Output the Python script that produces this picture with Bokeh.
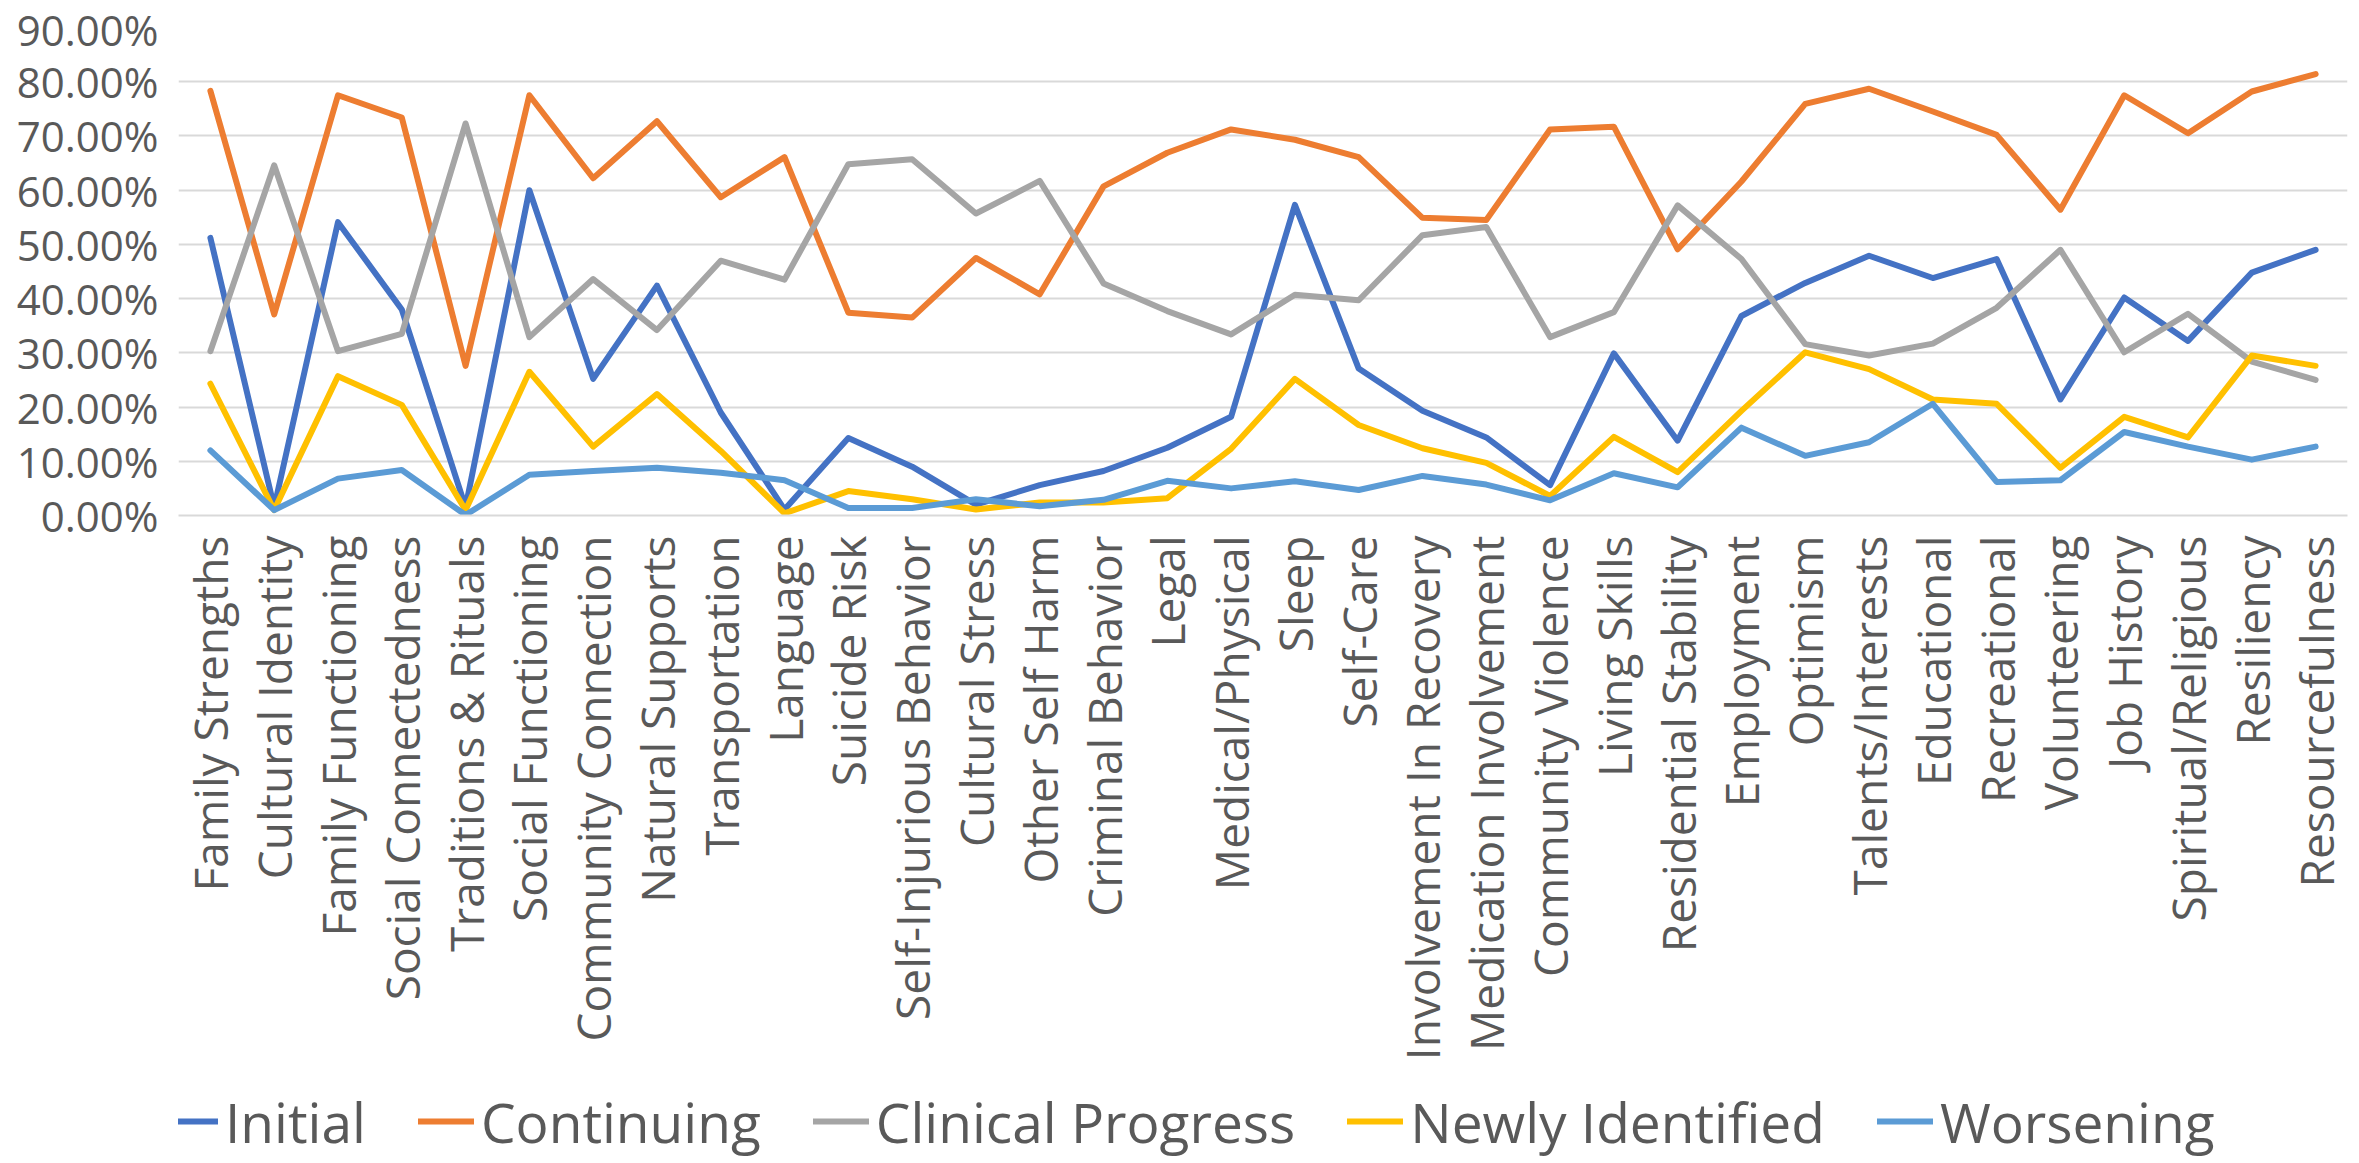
import math

from bokeh.embed import file_html
from bokeh.layouts import column
from bokeh.models import (FactorRange, FixedTicker, Legend, LegendItem,
                          PrintfTickFormatter, Range1d)
from bokeh.plotting import figure
from bokeh.resources import INLINE

# Assessment domains, in display order
categories = [
    "Family Strengths", "Cultural Identity", "Family Functioning",
    "Social Connectedness", "Traditions & Rituals", "Social Functioning",
    "Community Connection", "Natural Supports", "Transportation", "Language",
    "Suicide Risk", "Self-Injurious Behavior", "Cultural Stress",
    "Other Self Harm", "Criminal Behavior", "Legal", "Medical/Physical",
    "Sleep", "Self-Care", "Involvement In Recovery", "Medication Involvement",
    "Community Violence", "Living Skills", "Residential Stability",
    "Employment", "Optimism", "Talents/Interests", "Educational",
    "Recreational", "Volunteering", "Job History", "Spiritual/Religious",
    "Resiliency", "Resourcefulness",
]

# Share of cases per status (percent)
initial = [51.2, 1.5, 54.1, 38.0, 1.5, 60.0, 25.2, 42.4, 19.0, 1.1,
           14.3, 9.0, 2.0, 5.6, 8.2, 12.5, 18.2, 57.3, 27.1, 19.3,
           14.4, 5.6, 29.9, 13.8, 36.8, 42.9, 47.9, 43.8, 47.3, 21.4,
           40.2, 32.2, 44.8, 49.0]
continuing = [78.3, 37.1, 77.5, 73.4, 27.6, 77.5, 62.2, 72.7, 58.7, 66.1,
              37.4, 36.5, 47.5, 40.8, 60.7, 66.9, 71.2, 69.3, 66.1, 54.9,
              54.5, 71.2, 71.7, 49.1, 61.6, 75.9, 78.7, 74.5, 70.2, 56.4,
              77.5, 70.5, 78.2, 81.4]
clinical_progress = [30.3, 64.6, 30.3, 33.5, 72.3, 32.9, 43.6, 34.2, 47.0, 43.5,
                     64.8, 65.7, 55.7, 61.7, 42.8, 37.7, 33.4, 40.7, 39.7, 51.7,
                     53.2, 32.9, 37.5, 57.2, 47.3, 31.6, 29.5, 31.7, 38.3, 49.0,
                     30.1, 37.2, 28.4, 25.0]
newly_identified = [24.3, 1.0, 25.7, 20.4, 1.0, 26.5, 12.7, 22.4, 11.9, 0.4,
                    4.5, 3.0, 1.1, 2.4, 2.4, 3.2, 12.3, 25.2, 16.7, 12.4,
                    9.7, 3.6, 14.5, 8.0, 19.3, 30.1, 27.0, 21.4, 20.6, 8.8,
                    18.2, 14.4, 29.5, 27.6]
worsening = [12.0, 1.0, 6.8, 8.4, 0.1, 7.5, 8.2, 8.8, 7.9, 6.5,
             1.4, 1.4, 3.0, 1.7, 2.9, 6.4, 5.0, 6.3, 4.7, 7.3,
             5.7, 2.8, 7.8, 5.2, 16.2, 11.0, 13.5, 20.6, 6.2, 6.5,
             15.4, 12.7, 10.3, 12.7]

y_ticks = [0, 10, 20, 30, 40, 50, 60, 70, 80, 90]

series = [
    ("Initial", initial, "#4472C4"),
    ("Continuing", continuing, "#ED7D31"),
    ("Clinical Progress", clinical_progress, "#A5A5A5"),
    ("Newly Identified", newly_identified, "#FFC000"),
    ("Worsening", worsening, "#5B9BD5"),
]

TEXT = "#595959"
GRID = "#D9D9D9"
FONT = "Open Sans"
LINE_W = 6

W = 2359
LEGEND_H = 84

p = figure(
    width=W, height=1163 - LEGEND_H,
    x_range=FactorRange(factors=categories, range_padding=0),
    y_range=Range1d(0, 90),
    output_backend="svg", toolbar_location=None, title=None,
    min_border_left=178, min_border_right=12,
    min_border_top=27, min_border_bottom=1163 - LEGEND_H - 515,
)
p.outline_line_color = None
p.background_fill_color = "white"
p.border_fill_color = "white"

for name, vals, color in series:
    p.line(categories, vals, line_color=color, line_width=LINE_W,
           line_join="round", line_cap="round")

# Horizontal gridlines only
p.xgrid.grid_line_color = None
p.ygrid.grid_line_color = GRID
p.ygrid.grid_line_width = 2

# Value axis
p.yaxis.ticker = FixedTicker(ticks=y_ticks)
p.yaxis.formatter = PrintfTickFormatter(format="%.2f%%")
p.yaxis.axis_line_color = None
p.yaxis.major_tick_line_color = None
p.yaxis.minor_tick_line_color = None
p.yaxis.major_tick_out = 0
p.yaxis.major_label_standoff = 20
p.yaxis.major_label_text_font = FONT
p.yaxis.major_label_text_font_size = "42px"
p.yaxis.major_label_text_color = TEXT

# Category axis with vertical labels
p.xaxis.axis_line_color = GRID
p.xaxis.axis_line_width = 2
p.xaxis.major_tick_line_color = None
p.xaxis.major_tick_out = 0
p.xaxis.major_label_orientation = math.pi / 2
p.xaxis.major_label_standoff = 20
p.xaxis.major_label_text_font = FONT
p.xaxis.major_label_text_font_size = "46px"
p.xaxis.major_label_text_color = TEXT

# Legend strip underneath the chart
leg = figure(
    width=W, height=LEGEND_H,
    x_range=Range1d(0, 1), y_range=Range1d(0, 1),
    output_backend="svg", toolbar_location=None, title=None,
    x_axis_location=None, y_axis_location=None,
    min_border=0,
)
leg.outline_line_color = None
leg.xgrid.grid_line_color = None
leg.ygrid.grid_line_color = None
leg.border_fill_color = "white"
leg.background_fill_color = "white"

# Key swatches: one line renderer per series with no drawable point
items = []
nan = float("nan")
for name, vals, color in series:
    r = leg.line([nan, nan], [nan, nan], line_color=color,
                 line_width=LINE_W, line_cap="round")
    items.append(LegendItem(label=name, renderers=[r]))

# The strip's frame lines up with the chart frame, so the offset is
# measured from the chart's left edge of the plotting area.
legend = Legend(
    items=items, orientation="horizontal", location=(-16, 0),
    glyph_width=56, glyph_height=LEGEND_H, label_standoff=7, spacing=52,
    padding=0, margin=0,
    label_text_font=FONT, label_text_font_size="55px",
    label_text_color=TEXT,
    border_line_color=None, background_fill_alpha=0,
)
leg.add_layout(legend, "center")

page = column(p, leg, spacing=0)
open("out.html", "w").write(file_html(page, INLINE))
